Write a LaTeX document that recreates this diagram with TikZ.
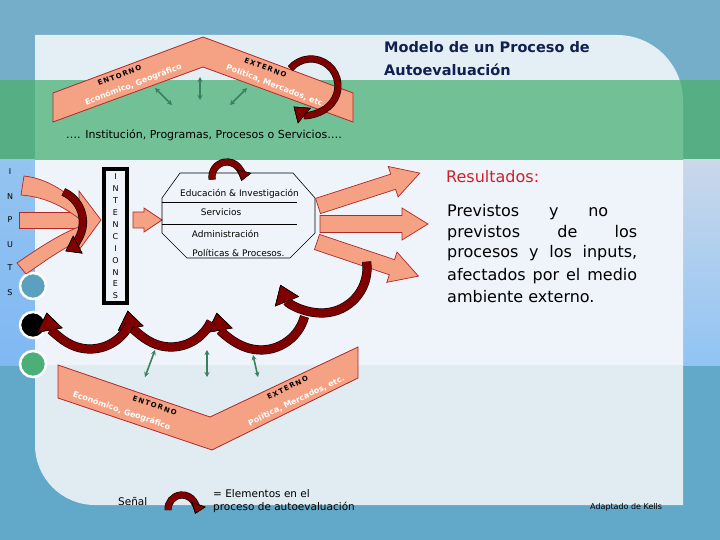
\documentclass[tikz,border=0pt]{standalone}
\usepackage{fontspec}
\setmainfont{DejaVu Sans}
\newfontfamily\titlefont{DejaVu Sans}
\newfontfamily\spacedfont{DejaVu Sans}[LetterSpace=18]
\usetikzlibrary{arrows.meta}
\definecolor{topblue}{HTML}{74AEC9}
\definecolor{botblue}{HTML}{62A8C8}
\definecolor{bandgreen}{HTML}{72C096}
\definecolor{stripgreen}{HTML}{55AE84}
\definecolor{paneltop}{HTML}{E4EFF5}
\definecolor{panelmid}{HTML}{EEF4FA}
\definecolor{panelbot}{HTML}{E0ECF2}
\definecolor{lstriptop}{HTML}{94C4F0}
\definecolor{lstripbot}{HTML}{80B8F2}
\definecolor{rstriptop}{HTML}{CAD8EA}
\definecolor{rstripbot}{HTML}{90C4F4}
\definecolor{salmon}{HTML}{F5A183}
\definecolor{salmonline}{HTML}{B02828}
\definecolor{arcred}{HTML}{800000}
\definecolor{arrgreen}{HTML}{3A8060}
\definecolor{navy}{HTML}{102050}
\definecolor{resred}{HTML}{D02028}
\definecolor{dotblue}{HTML}{5BA0BE}
\definecolor{dotgreen}{HTML}{4CAF78}
\newcommand\salmonarrow[7]{\begin{scope}[shift={(#1,#2)},rotate=#3]
\draw[blockshape] (0,-#5) -- ({#4-#7},-#5) -- ({#4-#7},-#6) -- (#4,0) -- ({#4-#7},#6) -- ({#4-#7},#5) -- (0,#5) -- cycle;
\end{scope}}
\begin{document}
\begin{tikzpicture}[x=1pt,y=-1pt,
 chevron/.style={fill=salmon, draw=salmonline, line width=0.8pt},
 blockshape/.style={fill=salmon, draw=salmonline, line width=0.7pt, line join=miter},
 chevtxt/.style={text=white, font=\bfseries\fontsize{8}{8}\selectfont, inner sep=0pt},
 chevlabel/.style={text=black, font=\spacedfont\bfseries\fontsize{7}{7}\selectfont, inner sep=0pt},
 redarc/.style={draw=arcred, line width=#1, preaction={draw=black, line width=#1+1.2pt}},
 tipbig/.style={-{Triangle[width=26pt,length=18pt,fill=arcred,color=black,line width=0.6pt]}},
 tipmid/.style={-{Triangle[width=20pt,length=14pt,fill=arcred,color=black,line width=0.6pt]}},
 tipsmall/.style={-{Triangle[width=15pt,length=10pt,fill=arcred,color=black,line width=0.6pt]}},
 dbl/.style={draw=arrgreen, line width=1.6pt, {Stealth[length=5pt,width=5pt]}-{Stealth[length=5pt,width=5pt]}},
 dotnode/.style={circle, draw=white, line width=2.5pt, minimum size=26pt, inner sep=0pt},
 octtxt/.style={font=\fontsize{9}{9}\selectfont, inner sep=0pt},
 lettertxt/.style={font=\fontsize{8}{8}\selectfont, inner sep=0pt},
 bodytxt/.style={anchor=base west, inner sep=0pt, font=\fontsize{16}{18}\selectfont},
 smalltxt/.style={anchor=base west, inner sep=0pt, font=\fontsize{10.5}{12}\selectfont}]
\useasboundingbox (0,0) rectangle (720,540);
% background
\fill[botblue] (0,0) rectangle (720,540);
\fill[topblue] (0,0) rectangle (720,80);
\fill[stripgreen] (0,80) rectangle (720,160);
\shade[top color=lstriptop, bottom color=lstripbot] (0,160) rectangle (35,365);
\shade[top color=rstriptop, bottom color=rstripbot] (683,160) rectangle (720,365);
\begin{scope}
\clip (35,35) -- (617,35) arc[start angle=-90,end angle=0,radius=66] -- (683,505) -- (95,505) arc[start angle=90,end angle=180,radius=60] -- cycle;
\fill[paneltop] (0,0) rectangle (720,80);
\fill[bandgreen] (0,80) rectangle (720,160);
\fill[panelmid] (0,160) rectangle (720,365);
\fill[panelbot] (0,365) rectangle (720,540);
\end{scope}
% title
\node[anchor=base west, inner sep=0pt, text=navy, font=\titlefont\bfseries\fontsize{14.5}{17}\selectfont] (title1) at (384,53) {Modelo de un Proceso de};
\node[anchor=base west, inner sep=0pt, text=navy, font=\titlefont\bfseries\fontsize{14.5}{17}\selectfont] (title2) at (384,76) {Autoevaluación};
% top chevron
\draw[chevron] (53,93) -- (203,37) -- (353,93) -- (353,122) -- (203,67) -- (53,122) -- cycle;
\node[chevlabel, rotate=20.5] (tl2) at (119.5,75.5) {ENTORNO};
\node[chevtxt, rotate=21] (tl1) at (133.5,85) {Económico, Geográfico};
\node[chevlabel, rotate=-20.5] (tr2) at (265.5,67.6) {EXTERNO};
\node[chevtxt, rotate=-21] (tr1) at (276,86) {Política, Mercados, etc.};
\coordinate (ga1) at (155,88); \coordinate (gb1) at (172,105);
\coordinate (ga2) at (200,77); \coordinate (gb2) at (200,100);
\coordinate (ga3) at (247,88); \coordinate (gb3) at (230,105);
\draw[dbl] (ga1) -- (gb1);
\draw[dbl] (ga2) -- (gb2);
\draw[dbl] (ga3) -- (gb3);
\draw[redarc=6pt, tipmid] (290.3,68.6) arc[start angle=220,end angle=490,radius=27];
\node[anchor=base west, inner sep=0pt, font=\fontsize{11}{13}\selectfont] (inst) at (66,139) {…. Institución, Programas, Procesos o Servicios….};
% inputs letters
\foreach \ch/\yy [count=\i] in {I/172,N/197,P/220,U/245,T/268,S/293}
  \node[lettertxt] (in\i) at (10,\yy) {\ch};
% circles
\node[dotnode, fill=dotblue] (c1) at (33,286) {};
\node[dotnode, fill=black] (c2) at (33,325) {};
\node[dotnode, fill=dotgreen] (c3) at (33,364) {};
% input arrows
\draw[blockshape] (19,212) rectangle (81,228);
\draw[blockshape] (24,176) .. controls (50,179) and (68,194) .. (82,207) -- (81,220) .. controls (64,207) and (46,197) .. (21,195) -- cycle;
\draw[blockshape] (17,263) .. controls (40,247) and (60,234) .. (81,226) -- (82,240) .. controls (62,248) and (44,262) .. (26,274) -- cycle;
\draw[blockshape] (79,191) -- (101,220) -- (79,250) -- cycle;
\draw[redarc=7pt, tipmid] (63.4,191.9) arc[start angle=-66,end angle=62,radius=33];
% intenciones
\node[draw=black, line width=4pt, minimum width=23pt, minimum height=134pt, inner sep=0pt] (int) at (115.5,236) {};
\foreach \ch [count=\i] in {I,N,T,E,N,C,I,O,N,E,S}
  \node[lettertxt] (int\i) at (115.5,{165+\i*11.9}) {\ch};
\salmonarrow{133}{220}{0}{29}{8}{12}{18}
% octagon
\draw[line width=0.6pt] (180,173) -- (293,173) -- (315,198) -- (315,233) -- (290,258) -- (187,258) -- (162,233) -- (162,198) -- cycle;
\draw[line width=0.6pt] (162,202) -- (297,202);
\draw[line width=0.6pt] (162,224) -- (297,224);
\node[octtxt] (o1) at (239.5,194) {Educación \& Investigación};
\node[octtxt] (o2) at (221,212) {Servicios};
\node[octtxt] (o3) at (225.5,234) {Administración};
\node[octtxt] (o4) at (238.5,253) {Políticas \& Procesos.};
\draw[redarc=6pt, tipsmall] (212.2,179.6) arc[start angle=170,end angle=375,radius=15];
% outputs
\salmonarrow{318}{206}{17.9}{107}{8}{16}{28}
\salmonarrow{317}{242}{-18.6}{107}{8}{16}{28}
\salmonarrow{320}{224}{0}{108}{8.5}{16}{26}
\draw[redarc=8pt, tipbig] (366.6,261.7) arc[start angle=-8,end angle=158,radius=45];
\draw[redarc=8pt, tipbig] (304.5,316.6) arc[start angle=15,end angle=170,radius=45];
\draw[redarc=8pt, tipbig] (210.9,321.6) arc[start angle=25,end angle=170,radius=44];
\draw[redarc=8pt, tipbig] (129.9,323.6) arc[start angle=25,end angle=170,radius=44];
% results text
\node[anchor=base west, inner sep=0pt, text=resred, font=\fontsize{16}{18}\selectfont] (res) at (446,183) {Resultados:};
\node[bodytxt] (r1) at (447,216) {\makebox[161pt][s]{Previstos\hfil y\hfil no}};
\node[bodytxt] (r2) at (447,237) {\makebox[190pt][s]{previstos\hfil de\hfil los}};
\node[bodytxt] (r3) at (447,258) {\makebox[190pt][s]{procesos y los inputs,}};
\node[bodytxt] (r4) at (447,280) {\makebox[190pt][s]{afectados por el medio}};
\node[bodytxt] (r5) at (447,302) {ambiente externo.};
% bottom chevron
\draw[chevron] (58,365) -- (210,417) -- (358,347) -- (358,378) -- (212,450) -- (58,398) -- cycle;
\node[chevlabel, rotate=-19] (bl2) at (154.7,405.4) {ENTORNO};
\node[chevtxt, rotate=-19] (bl1) at (121.6,411) {Económico, Geográfico};
\node[chevlabel, rotate=25.8] (br2) at (287.5,387.7) {EXTERNO};
\node[chevtxt, rotate=25.8] (br1) at (296.3,400.7) {Política, Mercados, etc.};
\coordinate (gc1) at (155,350); \coordinate (gd1) at (145,377);
\coordinate (gc2) at (207,350); \coordinate (gd2) at (207,377);
\coordinate (gc3) at (253,355); \coordinate (gd3) at (258,377);
\draw[dbl] (gc1) -- (gd1);
\draw[dbl] (gc2) -- (gd2);
\draw[dbl] (gc3) -- (gd3);
% legend
\node[smalltxt] (senal) at (118,505) {Señal};
\draw[redarc=6pt, tipsmall] (168.1,510.2) arc[start angle=175,end angle=380,radius=14];
\node[smalltxt] (leg1) at (213,497) {= Elementos en el};
\node[smalltxt] (leg2) at (213,510) {proceso de autoevaluación};
\node[anchor=base west, inner sep=0pt, font=\fontsize{8}{9}\selectfont] (kells) at (590,509) {Adaptado de Kells};
\end{tikzpicture}
\end{document}
